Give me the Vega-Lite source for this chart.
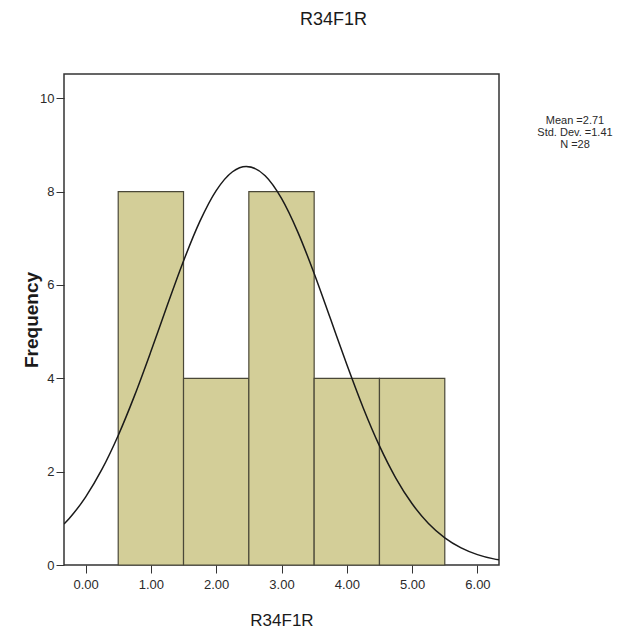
{
  "$schema": "https://vega.github.io/schema/vega-lite/v6.json",
  "autosize": "none",
  "width": 435,
  "height": 491,
  "padding": {"left": 64, "top": 74, "right": 138, "bottom": 68},
  "background": "white",
  "config": {
    "font": "Liberation Sans, Arial, sans-serif",
    "view": {"fill": "#f0f0f0", "stroke": "#333333", "strokeWidth": 1.5},
    "axis": {"labelColor": "#2a2a2a", "tickColor": "#333333", "domain": false, "grid": false, "labelFont": "Liberation Sans, Arial, sans-serif"}
  },
  "title": {
    "text": "R34F1R",
    "anchor": "start",
    "frame": "group",
    "dx": 236,
    "offset": 31,
    "baseline": "alphabetic",
    "fontSize": 18,
    "fontWeight": "normal",
    "color": "#1a1a1a",
    "font": "Liberation Sans, Arial, sans-serif"
  },
  "layer": [
    {
      "data": {"values": [
        {"bin_start": 0.5, "bin_end": 1.5, "count": 8},
        {"bin_start": 1.5, "bin_end": 2.5, "count": 4},
        {"bin_start": 2.5, "bin_end": 3.5, "count": 8},
        {"bin_start": 3.5, "bin_end": 4.5, "count": 4},
        {"bin_start": 4.5, "bin_end": 5.5, "count": 4}
      ]},
      "mark": {"type": "rect", "fill": "#d3ce98", "stroke": "#4a4838", "strokeWidth": 1.2},
      "encoding": {
        "x": {
          "field": "bin_start", "type": "quantitative",
          "scale": {"domain": [-0.33, 6.33], "nice": false, "zero": false},
          "axis": {"values": [0, 1, 2, 3, 4, 5, 6], "format": ".2f", "title": "R34F1R", "tickSize": 8, "labelPadding": 5, "labelFontSize": 13, "titleFontSize": 17, "titleFontWeight": "normal", "titleColor": "#1a1a1a", "titlePadding": 21}
        },
        "x2": {"field": "bin_end"},
        "y": {
          "field": "count", "type": "quantitative",
          "scale": {"domain": [0, 10.52], "nice": false},
          "axis": {"values": [0, 2, 4, 6, 8, 10], "title": "Frequency", "tickSize": 8, "labelPadding": 2, "labelFontSize": 13, "titleFontSize": 19, "titleFontWeight": "bold", "titleColor": "#1a1a1a", "titlePadding": -2}
        }
      }
    },
    {
      "data": {"values": [
        {"x": -0.33, "y": 0.878},
        {"x": -0.25, "y": 0.998},
        {"x": 0.0, "y": 1.456},
        {"x": 0.25, "y": 2.047},
        {"x": 0.5, "y": 2.776},
        {"x": 0.75, "y": 3.629},
        {"x": 1.0, "y": 4.573},
        {"x": 1.25, "y": 5.559},
        {"x": 1.5, "y": 6.514},
        {"x": 1.75, "y": 7.361},
        {"x": 2.0, "y": 8.021},
        {"x": 2.25, "y": 8.426},
        {"x": 2.46, "y": 8.54},
        {"x": 2.75, "y": 8.339},
        {"x": 3.0, "y": 7.854},
        {"x": 3.25, "y": 7.133},
        {"x": 3.5, "y": 6.247},
        {"x": 3.75, "y": 5.274},
        {"x": 4.0, "y": 4.295},
        {"x": 4.25, "y": 3.371},
        {"x": 4.5, "y": 2.552},
        {"x": 4.75, "y": 1.863},
        {"x": 5.0, "y": 1.311},
        {"x": 5.25, "y": 0.89},
        {"x": 5.5, "y": 0.582},
        {"x": 5.75, "y": 0.367},
        {"x": 6.0, "y": 0.223},
        {"x": 6.25, "y": 0.131},
        {"x": 6.33, "y": 0.11}
      ]},
      "mark": {"type": "line", "interpolate": "monotone", "color": "#1a1a1a", "strokeWidth": 1.5, "clip": true},
      "encoding": {
        "x": {"field": "x", "type": "quantitative"},
        "y": {"field": "y", "type": "quantitative"}
      }
    },
    {
      "data": {"values": [
        {"stat": "Mean =2.71"},
        {"stat": "Std. Dev. =1.41"},
        {"stat": "N =28"}
      ]},
      "mark": {"type": "point", "opacity": 0},
      "encoding": {
        "color": {
          "field": "stat", "type": "nominal",
          "scale": {"domain": ["Mean =2.71", "Std. Dev. =1.41", "N =28"], "range": ["#ffffff", "#ffffff", "#ffffff"]},
          "legend": {
            "orient": "none", "legendX": 500, "legendY": 41, "title": null,
            "symbolSize": 0, "symbolOpacity": 0, "symbolStrokeWidth": 0,
            "labelAlign": "center", "labelOffset": 0, "labelFontSize": 11,
            "labelColor": "#2a2a2a", "rowPadding": 0, "padding": 0,
            "labelFont": "Liberation Sans, Arial, sans-serif"
          }
        }
      }
    }
  ]
}
